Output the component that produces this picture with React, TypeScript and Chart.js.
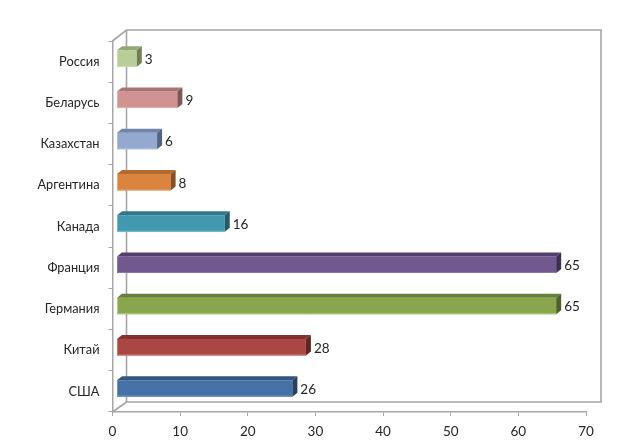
import React, { useEffect, useRef } from "react";
import { Chart, registerables } from "chart.js";

Chart.register(...registerables);

const categories = ["Россия", "Беларусь", "Казахстан", "Аргентина", "Канада", "Франция", "Германия", "Китай", "США"];
const values = [3, 9, 6, 8, 16, 65, 65, 28, 26];
const frontColors = ["#B9CD96", "#D19392", "#93A9CF", "#DB843D", "#4198AF", "#71588F", "#89A54E", "#AA4643", "#4572A7"];
const topColors = ["#94A878", "#A87573", "#6F84A8", "#B26A2F", "#30788C", "#533F6E", "#687F3A", "#83322F", "#335580"];
const sideColors = ["#6F7F58", "#7F5655", "#536482", "#874F22", "#245B6A", "#3E2E53", "#4E602B", "#622522", "#264060"];
const edgeColors = ["#CFDDB6", "#E0B0AE", "#B0C2E0", "#E8A878", "#75BBCE", "#8F78AC", "#B0CC78", "#C87A76", "#7295C2"];

const FONT = 'Lato, "Noto Sans", sans-serif';
const WALL = "#a6a6a6";

const threeD = {
  id: "threeD",
  beforeDraw(chart: any) {
    const { ctx, chartArea: a } = chart;
    const dx = 14, dy = -11;
    ctx.save();
    ctx.strokeStyle = WALL;
    ctx.lineWidth = 1.6;
    ctx.beginPath();
    ctx.moveTo(a.left, a.top);
    ctx.lineTo(a.left + dx, a.top + dy);
    ctx.lineTo(a.right + dx + 1, a.top + dy);
    ctx.lineTo(a.right + dx + 1, a.bottom + dy + 1);
    ctx.lineTo(a.left + dx, a.bottom + dy + 1);
    ctx.lineTo(a.left + dx, a.top + dy);
    ctx.moveTo(a.left + dx, a.bottom + dy + 1);
    ctx.lineTo(a.left, a.bottom);
    ctx.stroke();
    ctx.restore();
  },
  beforeDatasetsDraw(chart: any) {
    chart.ctx.save();
    chart.ctx.translate(4, -3);
  },
  afterDatasetsDraw(chart: any) {
    const { ctx } = chart;
    const dx = 5, dy = -4;
    chart.getDatasetMeta(0).data.forEach((bar: any, i: number) => {
      const t = bar.y - bar.height / 2;
      const b = bar.y + bar.height / 2;
      ctx.fillStyle = topColors[i];
      ctx.beginPath();
      ctx.moveTo(bar.base, t);
      ctx.lineTo(bar.base + dx, t + dy);
      ctx.lineTo(bar.x + dx, t + dy);
      ctx.lineTo(bar.x, t);
      ctx.closePath();
      ctx.fill();
      ctx.fillStyle = sideColors[i];
      ctx.beginPath();
      ctx.moveTo(bar.x, t);
      ctx.lineTo(bar.x + dx, t + dy);
      ctx.lineTo(bar.x + dx, b + dy);
      ctx.lineTo(bar.x, b);
      ctx.closePath();
      ctx.fill();
      ctx.strokeStyle = edgeColors[i];
      ctx.lineWidth = 1;
      ctx.beginPath();
      ctx.moveTo(bar.base + 0.5, t);
      ctx.lineTo(bar.base + 0.5, b - 0.5);
      ctx.lineTo(bar.x, b - 0.5);
      ctx.stroke();
      ctx.fillStyle = "#262626";
      ctx.font = `13.5px ${FONT}`;
      ctx.textAlign = "left";
      ctx.textBaseline = "middle";
      ctx.fillText(String(values[i]), bar.x + dx + 3, bar.y + 1);
    });
    ctx.restore();
  },
};

export default function App() {
  const ref = useRef<HTMLCanvasElement>(null);
  useEffect(() => {
    const chart = new Chart(ref.current!, {
      type: "bar",
      data: {
        labels: categories,
        datasets: [
          {
            data: values,
            backgroundColor: frontColors,
            borderWidth: 0,
            barPercentage: 0.4,
            categoryPercentage: 1,
            clip: false,
          } as any,
        ],
      },
      options: {
        indexAxis: "y",
        animation: false,
        responsive: false,
        layout: { padding: { left: 0, right: 53, top: 41, bottom: 0 } },
        plugins: { legend: { display: false }, title: { display: false }, tooltip: { enabled: false } },
        scales: {
          x: {
            min: 0,
            max: 70,
            afterFit: (s: any) => { s.height = 34; },
            ticks: { stepSize: 10, maxRotation: 0, color: "#262626", font: { family: FONT, size: 13.5 }, padding: 8 },
            grid: { drawOnChartArea: false, drawTicks: true, tickLength: 4, color: WALL },
            border: { color: WALL, width: 1.5 },
          },
          y: {
            afterFit: (s: any) => { s.width = 112.5; },
            ticks: {
              color: "#262626",
              font: { family: FONT, size: 12.8 },
              padding: 9,
              autoSkip: false,
            },
            grid: { drawOnChartArea: false, drawTicks: true, tickLength: 4, color: WALL },
            border: { color: WALL, width: 1.5 },
          },
        },
      },
      plugins: [threeD],
    });
    return () => chart.destroy();
  }, []);
  return (
    <div style={{ position: "fixed", left: 0, top: 0, width: 639, height: 446, background: "#fff" }}>
      <canvas ref={ref} width={639} height={446} style={{ display: "block" }} />
    </div>
  );
}
